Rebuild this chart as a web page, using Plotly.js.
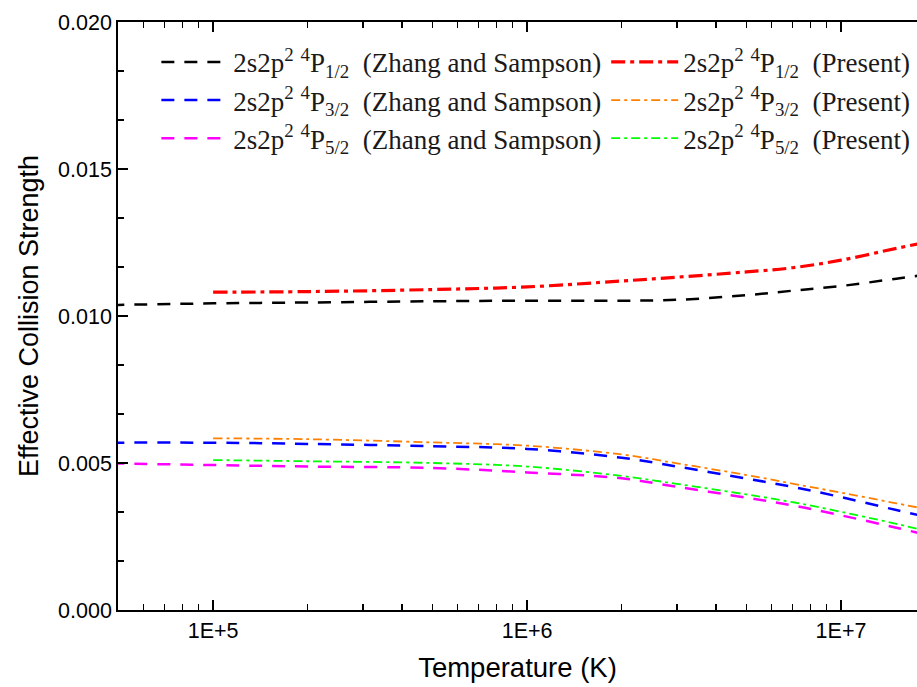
<!DOCTYPE html>
<html>
<head>
<meta charset="utf-8">
<script src="https://cdn.plot.ly/plotly-3.0.1.min.js"></script>
<style>html,body{margin:0;padding:0;background:#fff;overflow:hidden}</style>
</head>
<body>
<div id="chart" style="width:917px;height:687px"></div>
<script>
// Temperatures (K)
var tempZS = [4e4, 1e5, 2e5, 5e5, 1e6, 2e6, 3e6, 5e6, 7e6, 1e7, 1.5e7, 2e7];
var tempPresent = [1e5, 2e5, 5e5, 1e6, 2e6, 3e6, 5e6, 7e6, 1e7, 1.5e7, 2e7];

// Zhang and Sampson
var zsP12 = [0.01036, 0.01043, 0.01046, 0.01050, 0.01052, 0.01052, 0.01055, 0.01071, 0.01086, 0.01102, 0.01127, 0.01145];
var zsP32 = [0.00569, 0.00569, 0.00565, 0.00557, 0.00548, 0.00518, 0.00488, 0.00447, 0.00419, 0.00384, 0.00340, 0.00310];
var zsP52 = [0.00500, 0.00493, 0.00488, 0.00483, 0.00468, 0.00448, 0.00419, 0.00382, 0.00356, 0.00322, 0.00280, 0.00248];

// Present
var prP12 = [0.01081, 0.01083, 0.01090, 0.01099, 0.01119, 0.01132, 0.01150, 0.01164, 0.01190, 0.01230, 0.01258];
var prP32 = [0.00584, 0.00581, 0.00570, 0.00559, 0.00529, 0.00499, 0.00459, 0.00430, 0.00399, 0.00363, 0.00337];
var prP52 = [0.00510, 0.00506, 0.00500, 0.00488, 0.00456, 0.00429, 0.00393, 0.00367, 0.00334, 0.00293, 0.00261];

var xTickVals = [1e5, 1e6, 1e7];
var xTickText = ['1E+5', '1E+6', '1E+7'];

var names = [
  '2s2p<sup>2</sup> <sup>4</sup>P<sub>1/2</sub>&nbsp;&nbsp;(Zhang and Sampson)',
  '2s2p<sup>2</sup> <sup>4</sup>P<sub>3/2</sub>&nbsp;&nbsp;(Zhang and Sampson)',
  '2s2p<sup>2</sup> <sup>4</sup>P<sub>5/2</sub>&nbsp;&nbsp;(Zhang and Sampson)',
  '2s2p<sup>2</sup> <sup>4</sup>P<sub>1/2</sub>&nbsp;&nbsp;(Present)',
  '2s2p<sup>2</sup> <sup>4</sup>P<sub>3/2</sub>&nbsp;&nbsp;(Present)',
  '2s2p<sup>2</sup> <sup>4</sup>P<sub>5/2</sub>&nbsp;&nbsp;(Present)'
];

var dashZS = '13px,10px';
var dashPrThick = '14px,5px,4px,5px';
var dashPrThin = '9px,4px,3px,4px';

var traces = [
  {x: tempZS, y: zsP12, name: names[0], legend: 'legend', line: {color: '#000000', width: 2.5, dash: dashZS, shape: 'spline'}},
  {x: tempZS, y: zsP32, name: names[1], legend: 'legend', line: {color: '#0000ff', width: 2.5, dash: dashZS, shape: 'spline'}},
  {x: tempZS, y: zsP52, name: names[2], legend: 'legend', line: {color: '#ff00ff', width: 2.5, dash: dashZS, shape: 'spline'}},
  {x: tempPresent, y: prP12, name: names[3], legend: 'legend2', line: {color: '#ff0000', width: 3.2, dash: dashPrThick, shape: 'spline'}},
  {x: tempPresent, y: prP32, name: names[4], legend: 'legend2', line: {color: '#ff8000', width: 1.8, dash: dashPrThin, shape: 'spline'}},
  {x: tempPresent, y: prP52, name: names[5], legend: 'legend2', line: {color: '#00ff00', width: 1.8, dash: dashPrThin, shape: 'spline'}}
].map(function (t) { t.type = 'scatter'; t.mode = 'lines'; t.hoverinfo = 'skip'; return t; });

var legendFont = {family: 'Liberation Serif, Times New Roman, serif', size: 27, color: '#1a1a1a'};

var layout = {
  width: 917,
  height: 687,
  margin: {l: 118, r: 0, t: 22, b: 77},
  paper_bgcolor: '#ffffff',
  plot_bgcolor: '#ffffff',
  font: {family: 'Liberation Sans, Arial, sans-serif', color: '#000000'},
  showlegend: true,
  legend: {
    orientation: 'v',
    x: 0.048,
    y: 0.973,
    xanchor: 'left',
    yanchor: 'top',
    itemwidth: 67,
    font: legendFont,
    bgcolor: 'rgba(0,0,0,0)',
    tracegroupgap: 0
  },
  legend2: {
    orientation: 'v',
    x: 0.611,
    y: 0.973,
    xanchor: 'left',
    yanchor: 'top',
    itemwidth: 67,
    font: legendFont,
    bgcolor: 'rgba(0,0,0,0)',
    tracegroupgap: 0
  },
  xaxis: {
    type: 'log',
    range: [4.697, 7.242],
    tickmode: 'array',
    tickvals: xTickVals,
    ticktext: xTickText,
    ticks: 'inside',
    ticklen: 10,
    tickwidth: 1.5,
    tickcolor: '#000',
    showline: true,
    linecolor: '#000',
    linewidth: 1.8,
    mirror: 'allticks',
    showgrid: false,
    zeroline: false,
    tickfont: {size: 21.5, color: '#000'},
    minor: {tickmode: 'linear', dtick: 'D1', ticks: 'inside', ticklen: 6, tickwidth: 1.3, tickcolor: '#000', showgrid: false},
    title: {text: 'Temperature (K)', font: {size: 27.5, color: '#000'}, standoff: 16}
  },
  yaxis: {
    range: [0, 0.020],
    tickmode: 'linear',
    tick0: 0,
    dtick: 0.005,
    tickformat: '.3f',
    ticks: 'inside',
    ticklen: 10,
    tickwidth: 1.5,
    tickcolor: '#000',
    showline: true,
    linecolor: '#000',
    linewidth: 1.8,
    mirror: false,
    showgrid: false,
    zeroline: false,
    tickfont: {size: 21.5, color: '#000'},
    minor: {tickmode: 'linear', dtick: 0.005 / 3, ticks: 'inside', ticklen: 6, tickwidth: 1.3, tickcolor: '#000', showgrid: false},
    title: {text: 'Effective Collision Strength', font: {size: 27, color: '#000'}, standoff: 12}
  }
};

Plotly.newPlot('chart', traces, layout, {staticPlot: true, displayModeBar: false});
</script>
</body>
</html>
